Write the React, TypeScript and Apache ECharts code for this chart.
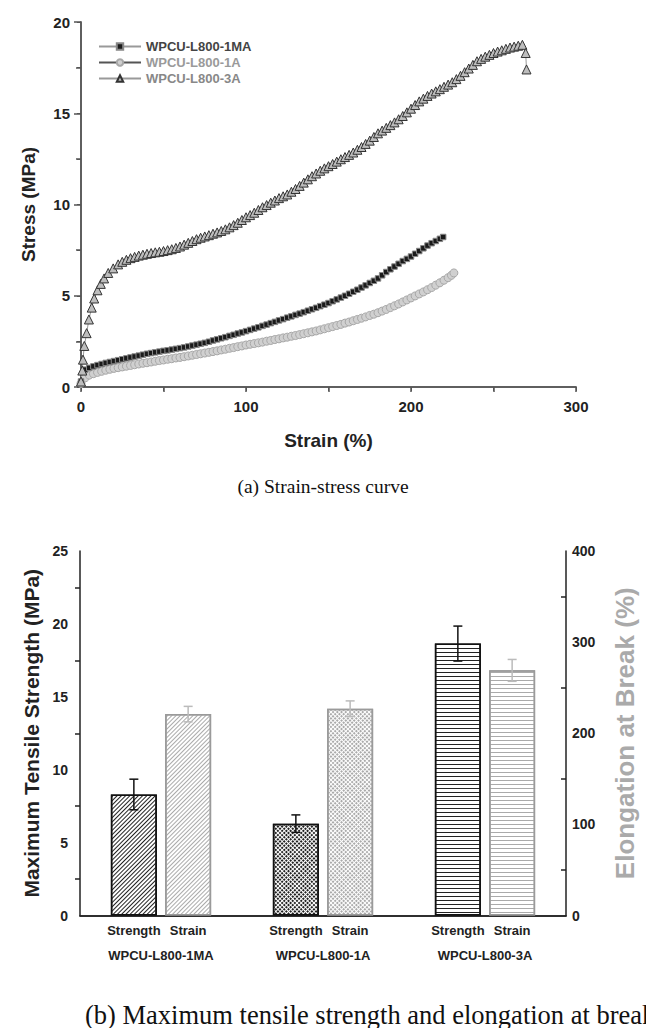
import React, { useEffect, useRef } from "react";
import * as echarts from "echarts";

// ---------- (a) strain-stress curves ----------
const strain1MA = [0, 1.5, 2.5, 5, 7.5, 10, 12.5, 15, 17.5, 20, 22.5, 25, 27.5, 30, 32.5, 35, 37.5, 40, 42.5, 45, 47.5, 50, 52.5, 55, 57.5, 60, 62.5, 65, 67.5, 70, 72.5, 75, 77.5, 80, 82.5, 85, 87.5, 90, 92.5, 95, 97.5, 100, 102.5, 105, 107.5, 110, 112.5, 115, 117.5, 120, 122.5, 125, 127.5, 130, 132.5, 135, 137.5, 140, 142.5, 145, 147.5, 150, 152.5, 155, 157.5, 160, 162.5, 165, 167.5, 170, 172.5, 175, 177.5, 180, 182.5, 185, 187.5, 190, 192.5, 195, 197.5, 200, 202.5, 205, 207.5, 210, 212.5, 215, 217.5, 219.5];
const stress1MA = [0.3, 0.85, 0.95, 1.05, 1.13, 1.2, 1.26, 1.32, 1.37, 1.42, 1.47, 1.52, 1.57, 1.62, 1.67, 1.72, 1.77, 1.82, 1.86, 1.9, 1.94, 1.98, 2.01, 2.05, 2.09, 2.13, 2.17, 2.22, 2.27, 2.32, 2.37, 2.42, 2.48, 2.55, 2.61, 2.67, 2.73, 2.8, 2.86, 2.93, 2.99, 3.06, 3.13, 3.2, 3.27, 3.35, 3.42, 3.5, 3.57, 3.65, 3.72, 3.8, 3.87, 3.95, 4.02, 4.1, 4.18, 4.26, 4.34, 4.43, 4.51, 4.6, 4.7, 4.8, 4.9, 5.0, 5.11, 5.22, 5.33, 5.45, 5.57, 5.7, 5.82, 5.95, 6.12, 6.3, 6.45, 6.6, 6.75, 6.9, 7.02, 7.15, 7.3, 7.45, 7.6, 7.75, 7.88, 8.0, 8.12, 8.22];

const strain1A = [0, 2.5, 5, 7.5, 10, 12.5, 15, 17.5, 20, 22.5, 25, 27.5, 30, 32.5, 35, 37.5, 40, 42.5, 45, 47.5, 50, 52.5, 55, 57.5, 60, 62.5, 65, 67.5, 70, 72.5, 75, 77.5, 80, 82.5, 85, 87.5, 90, 92.5, 95, 97.5, 100, 102.5, 105, 107.5, 110, 112.5, 115, 117.5, 120, 122.5, 125, 127.5, 130, 132.5, 135, 137.5, 140, 142.5, 145, 147.5, 150, 152.5, 155, 157.5, 160, 162.5, 165, 167.5, 170, 172.5, 175, 177.5, 180, 182.5, 185, 187.5, 190, 192.5, 195, 197.5, 200, 202.5, 205, 207.5, 210, 212.5, 215, 217.5, 220, 222.5, 224.5, 226];
const stress1A = [0.2, 0.5, 0.65, 0.73, 0.8, 0.86, 0.92, 0.97, 1.02, 1.06, 1.1, 1.14, 1.18, 1.22, 1.26, 1.3, 1.33, 1.37, 1.41, 1.45, 1.48, 1.52, 1.55, 1.59, 1.62, 1.66, 1.7, 1.74, 1.78, 1.82, 1.86, 1.9, 1.94, 1.98, 2.03, 2.07, 2.12, 2.16, 2.21, 2.25, 2.3, 2.34, 2.38, 2.42, 2.46, 2.51, 2.55, 2.6, 2.64, 2.69, 2.73, 2.78, 2.82, 2.87, 2.92, 2.97, 3.02, 3.07, 3.13, 3.19, 3.25, 3.31, 3.37, 3.43, 3.5, 3.56, 3.63, 3.7, 3.77, 3.84, 3.92, 3.99, 4.07, 4.16, 4.25, 4.35, 4.45, 4.55, 4.66, 4.77, 4.88, 4.99, 5.1, 5.21, 5.33, 5.45, 5.58, 5.71, 5.85, 5.99, 6.12, 6.25];

const strain3A = [0, 0.8, 1.2, 2, 3.4, 4.8, 6.5, 8, 10, 12, 14, 16.5, 19.5, 22.5, 25, 27.5, 30, 32.5, 35, 37.5, 40, 42.5, 45, 47.5, 50, 52.5, 55, 57.5, 60, 62.5, 65, 67.5, 70, 72.5, 75, 77.5, 80, 82.5, 85, 87.5, 90, 92.5, 95, 97.5, 100, 102.5, 105, 107.5, 110, 112.5, 115, 117.5, 120, 122.5, 125, 127.5, 130, 132.5, 135, 137.5, 140, 142.5, 145, 147.5, 150, 152.5, 155, 157.5, 160, 162.5, 165, 167.5, 170, 172.5, 175, 177.5, 180, 182.5, 185, 187.5, 190, 192.5, 195, 197.5, 200, 202.5, 205, 207.5, 210, 212.5, 215, 217.5, 220, 222.5, 225, 227.5, 230, 232.5, 235, 237.5, 240, 242.5, 245, 247.5, 250, 252.5, 255, 257.5, 260, 262.5, 265, 267.5, 269.5, 270];
const stress3A = [0.3, 0.9, 1.5, 2.25, 2.95, 3.7, 4.35, 4.85, 5.3, 5.65, 5.95, 6.25, 6.5, 6.72, 6.86, 6.97, 7.06, 7.13, 7.2, 7.25, 7.3, 7.34, 7.38, 7.41, 7.45, 7.5, 7.55, 7.62, 7.7, 7.8, 7.9, 8.0, 8.1, 8.18, 8.25, 8.32, 8.4, 8.47, 8.55, 8.64, 8.75, 8.87, 9.0, 9.15, 9.3, 9.42, 9.55, 9.7, 9.85, 9.97, 10.1, 10.22, 10.35, 10.45, 10.55, 10.7, 10.85, 11.02, 11.2, 11.38, 11.55, 11.7, 11.85, 11.98, 12.1, 12.22, 12.35, 12.48, 12.6, 12.72, 12.85, 13.0, 13.15, 13.32, 13.5, 13.7, 13.9, 14.05, 14.2, 14.35, 14.5, 14.67, 14.85, 15.05, 15.25, 15.45, 15.65, 15.8, 15.95, 16.08, 16.2, 16.32, 16.45, 16.57, 16.7, 16.87, 17.05, 17.25, 17.45, 17.65, 17.85, 17.98, 18.1, 18.2, 18.3, 18.38, 18.45, 18.53, 18.6, 18.65, 18.7, 18.75, 18.3, 17.4];

// ---------- (b) bars ----------
const samples = ["WPCU-L800-1MA", "WPCU-L800-1A", "WPCU-L800-3A"];
const strengthMean = [8.3, 6.3, 18.65];
const strengthErr = [1.05, 0.6, 1.2];
const strainMean = [221, 227, 269];
const strainErr = [8.5, 8.5, 12];

const SANS = '"Liberation Sans", Arial, sans-serif';
const SERIF = '"Liberation Serif", "Times New Roman", serif';

const BAR_W = 46;
const BAR_GAP = 0.18;

const zip = (xs: number[], ys: number[]) => xs.map((x, i) => [x, ys[i]]);

const hatch = (color: string) => ({ symbol: "rect", symbolSize: 1, color, dashArrayX: [1, 0], dashArrayY: [1, 2], rotation: -Math.PI / 4 });
const cross = (color: string) => ({ symbol: "rect", symbolSize: 1, color, dashArrayX: [2, 1], dashArrayY: [2, 1], rotation: Math.PI / 4 });
const horiz = (color: string) => ({ symbol: "rect", symbolSize: 1, color, dashArrayX: [1, 0], dashArrayY: [1, 2.5], rotation: 0 });

function errRender(offset: number, color: string) {
  return (params: any, api: any) => {
    const c = api.value(0);
    const v = api.value(1);
    const e = api.value(2);
    const top = api.coord([c, v + e]);
    const bot = api.coord([c, v - e]);
    const x = top[0] + offset;
    const cap = 4.5;
    const st = { stroke: color, lineWidth: 1.5 };
    return {
      type: "group",
      children: [
        { type: "line", shape: { x1: x, y1: top[1], x2: x, y2: bot[1] }, style: st },
        { type: "line", shape: { x1: x - cap, y1: top[1], x2: x + cap, y2: top[1] }, style: st },
        { type: "line", shape: { x1: x - cap, y1: bot[1], x2: x + cap, y2: bot[1] }, style: st },
      ],
    };
  };
}

export default function App() {
  const ref = useRef<HTMLDivElement>(null);
  useEffect(() => {
    if (!ref.current) return;
    const chart = echarts.init(ref.current, null, { renderer: "svg" });
    const off = (BAR_W * (1 + BAR_GAP)) / 2;
    const topAxisLine = { lineStyle: { color: "#555", width: 1.5 } };
    const botAxisLine = { lineStyle: { color: "#222", width: 1.5 } };
    const option: any = {
      animation: false,
      backgroundColor: "#fff",
      grid: [
        { left: 81, right: 70, top: 22, height: 365 },
        { left: 80, right: 69, top: 551, height: 364.5 },
      ],
      legend: {
        left: 93,
        top: 35,
        orient: "vertical",
        itemWidth: 42,
        itemHeight: 8,
        itemGap: 3,
        textStyle: { fontFamily: SANS, fontWeight: "bold", fontSize: 13 },
        data: [
          { name: "WPCU-L800-1MA", textStyle: { color: "#444" } },
          { name: "WPCU-L800-1A", textStyle: { color: "#9a9a9a" } },
          { name: "WPCU-L800-3A", textStyle: { color: "#888" } },
        ],
      },
      xAxis: [
        {
          gridIndex: 0, type: "value", min: 0, max: 300, interval: 100, position: "bottom",
          axisLine: topAxisLine,
          axisTick: { length: 5, lineStyle: { color: "#555", width: 1.5 } },
          minorTick: { show: true, splitNumber: 2, length: 5, lineStyle: { color: "#555", width: 1.5 } },
          splitLine: { show: false },
          axisLabel: { margin: 12, color: "#222", fontFamily: SANS, fontWeight: "bold", fontSize: 15 },
          name: "Strain (%)", nameLocation: "middle", nameGap: 44,
          nameTextStyle: { color: "#222", fontFamily: SANS, fontWeight: "bold", fontSize: 19 },
        },
        {
          gridIndex: 0, type: "value", min: 0, max: 300, interval: 100, position: "top",
          axisLine: topAxisLine,
          axisTick: { inside: true, length: 4, lineStyle: { color: "#555" } },
          minorTick: { show: true, splitNumber: 2, length: 4, lineStyle: { color: "#555" } },
          axisLabel: { show: false }, splitLine: { show: false },
        },
        {
          gridIndex: 1, type: "category", data: samples, position: "bottom",
          axisLine: botAxisLine,
          axisTick: { inside: true, length: 3, lineStyle: { color: "#888" } },
          axisLabel: { margin: 33, color: "#222", fontFamily: SANS, fontWeight: "bold", fontSize: 13 },
        },
        {
          gridIndex: 1, type: "category", data: samples, position: "top",
          axisLine: botAxisLine, axisTick: { show: false }, axisLabel: { show: false },
        },
      ],
      yAxis: [
        {
          gridIndex: 0, type: "value", min: 0, max: 20, interval: 5, position: "left",
          axisLine: { show: true, ...topAxisLine },
          axisTick: { length: 7, lineStyle: { color: "#555", width: 1.5 } },
          minorTick: { show: true, splitNumber: 2, length: 5, lineStyle: { color: "#555", width: 1.5 } },
          splitLine: { show: false },
          axisLabel: { margin: 11, color: "#222", fontFamily: SANS, fontWeight: "bold", fontSize: 15 },
          name: "Stress (MPa)", nameLocation: "middle", nameGap: 43,
          nameTextStyle: { color: "#222", fontFamily: SANS, fontWeight: "bold", fontSize: 19 },
        },
        {
          gridIndex: 0, type: "value", min: 0, max: 20, interval: 5, position: "right",
          axisLine: { show: true, ...topAxisLine },
          axisTick: { inside: true, length: 4, lineStyle: { color: "#555" } },
          minorTick: { show: true, splitNumber: 2, length: 4, lineStyle: { color: "#555" } },
          axisLabel: { show: false }, splitLine: { show: false },
        },
        {
          gridIndex: 1, type: "value", min: 0, max: 25, interval: 5, position: "left",
          axisLine: { show: true, ...botAxisLine },
          axisTick: { length: 7, lineStyle: { color: "#222", width: 1.5 } },
          minorTick: { show: true, splitNumber: 2, length: 5, lineStyle: { color: "#222", width: 1.5 } },
          splitLine: { show: false },
          axisLabel: { margin: 12, color: "#222", fontFamily: SANS, fontWeight: "bold", fontSize: 14 },
          name: "Maximum Tensile Strength (MPa)", nameLocation: "middle", nameGap: 37,
          nameTextStyle: { color: "#222", fontFamily: SANS, fontWeight: "bold", fontSize: 21 },
        },
        {
          gridIndex: 1, type: "value", min: 0, max: 400, interval: 100, position: "right",
          axisLine: { show: true, ...botAxisLine },
          axisTick: { inside: true, length: 6, lineStyle: { color: "#222", width: 1.5 } },
          minorTick: { show: true, splitNumber: 2, length: 5, lineStyle: { color: "#222", width: 1.5 } },
          splitLine: { show: false },
          axisLabel: { margin: 6, color: "#222", fontFamily: SANS, fontWeight: "bold", fontSize: 14 },
          name: "Elongation at Break (%)", nameLocation: "middle", nameGap: 46,
          nameTextStyle: { color: "#aaa", fontFamily: SANS, fontWeight: "bold", fontSize: 26 },
        },
      ],
      series: [
        {
          name: "WPCU-L800-1A", type: "line", xAxisIndex: 0, yAxisIndex: 0,
          data: zip(strain1A, stress1A),
          symbol: "circle", symbolSize: 8, showAllSymbol: true,
          lineStyle: { color: "#555", width: 1 },
          itemStyle: { color: "#d0d0d0", borderColor: "#a8a8a8", borderWidth: 1 },
        },
        {
          name: "WPCU-L800-1MA", type: "line", xAxisIndex: 0, yAxisIndex: 0,
          data: zip(strain1MA, stress1MA),
          symbol: "rect", symbolSize: 5.5, showAllSymbol: true,
          lineStyle: { color: "#999", width: 1 },
          itemStyle: { color: "#1a1a1a", borderColor: "#888", borderWidth: 1 },
        },
        {
          name: "WPCU-L800-3A", type: "line", xAxisIndex: 0, yAxisIndex: 0,
          data: zip(strain3A, stress3A),
          symbol: "triangle", symbolSize: 9, showAllSymbol: true,
          lineStyle: { color: "#999", width: 1 },
          itemStyle: { color: "#bdbdbd", borderColor: "#333", borderWidth: 1 },
        },
        {
          name: "Strength", type: "bar", xAxisIndex: 2, yAxisIndex: 2,
          barWidth: BAR_W, barGap: BAR_GAP * 100 + "%",
          label: { show: true, position: "bottom", distance: 8, formatter: "Strength", color: "#222", fontFamily: SANS, fontWeight: "bold", fontSize: 13 },
          data: strengthMean.map((v, i) => ({
            value: v,
            itemStyle: { color: "#fff", borderColor: "#111", borderWidth: 1.5, decal: [hatch("#222"), cross("#222"), horiz("#222")][i] },
          })),
        },
        {
          name: "Strain", type: "bar", xAxisIndex: 2, yAxisIndex: 3,
          barWidth: BAR_W,
          label: { show: true, position: "bottom", distance: 8, formatter: "Strain", color: "#222", fontFamily: SANS, fontWeight: "bold", fontSize: 13 },
          data: strainMean.map((v, i) => ({
            value: v,
            itemStyle: { color: "#fff", borderColor: "#9a9a9a", borderWidth: 1.5, decal: [hatch("#aaa"), cross("#aaa"), horiz("#aaa")][i] },
          })),
        },
        {
          type: "custom", xAxisIndex: 2, yAxisIndex: 2, z: 5,
          renderItem: errRender(-off, "#111"),
          encode: { x: 0, y: 1 },
          data: strengthMean.map((v, i) => [i, v, strengthErr[i]]),
        },
        {
          type: "custom", xAxisIndex: 2, yAxisIndex: 3, z: 5,
          renderItem: errRender(off, "#bbb"),
          encode: { x: 0, y: 1 },
          data: strainMean.map((v, i) => [i, v, strainErr[i]]),
        },
      ],
      graphic: [
        {
          type: "text", left: "center", top: 476,
          style: { text: "(a) Strain-stress curve", fontFamily: SERIF, fontSize: 19.5, fill: "#111" },
        },
        {
          type: "text", left: 85, top: 1001,
          style: { text: "(b) Maximum tensile strength and elongation at break", fontFamily: SERIF, fontSize: 26.5, fill: "#111" },
        },
      ],
    };
    chart.setOption(option);
    return () => chart.dispose();
  }, []);
  return <div ref={ref} style={{ position: "absolute", left: 0, top: 0, width: 646, height: 1028, overflow: "hidden" }} />;
}
